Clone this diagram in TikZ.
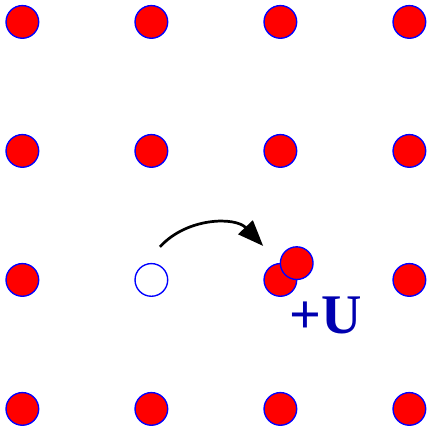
\documentclass[tikz,border=0pt]{standalone}
\usepackage{fontspec}
\setmainfont{Liberation Serif}
\usepackage{xcolor}
\usetikzlibrary{arrows.meta}
\definecolor{siteblue}{RGB}{0,0,255}
\definecolor{labelblue}{RGB}{0,0,176}

\begin{document}
\begin{tikzpicture}[
  site/.style={circle,draw=siteblue,line width=0.9pt,fill=red,minimum size=0.76cm,inner sep=0pt},
  hole/.style={site,fill=white},
  hop/.style={-{Triangle[length=6mm,width=4.6mm]},line width=1.8pt}
]
  \useasboundingbox (0,0) rectangle (10,10);
  \foreach \i in {0,...,3}
    \foreach \j in {0,...,3}{
      \ifnum\i=1 \ifnum\j=1 \else
        \node[site] (s\i\j) at (0.52+3*\i,0.49+3*\j) {};
      \fi \else
        \node[site] (s\i\j) at (0.52+3*\i,0.49+3*\j) {};
      \fi
    }
  \node[hole] (s11) at (3.52,3.49) {};
  \node[site] (extra) at (6.90,3.88) {};
  \node[text=labelblue,font=\fontsize{37}{37}\selectfont\bfseries] (U) at (7.58,2.66) {+U};
  \coordinate (hopstart) at (3.72,4.26);
  \coordinate (hopend) at (6.12,4.28);
  \draw[hop] (hopstart) to[bend left=47] (hopend);
\end{tikzpicture}
\end{document}
